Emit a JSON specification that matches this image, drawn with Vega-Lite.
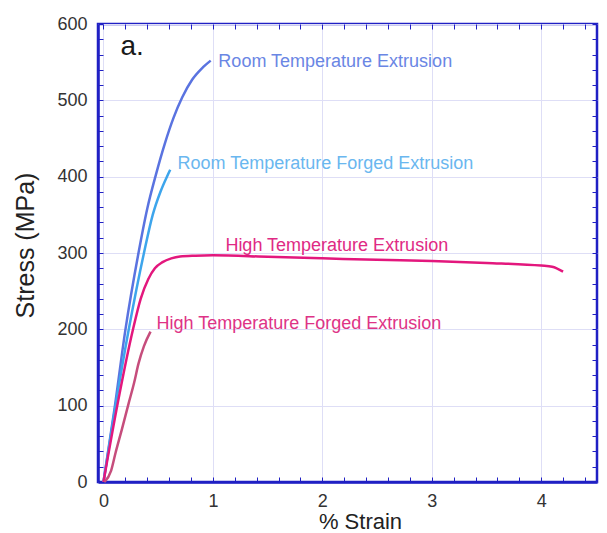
{
  "$schema": "https://vega.github.io/schema/vega-lite/v6.json",
  "width": 499,
  "height": 458,
  "autosize": {"type": "none"},
  "padding": {"left": 98, "top": 24, "right": 10, "bottom": 51},
  "background": "white",
  "config": {
    "view": {"stroke": "#2020c4", "strokeWidth": 2.5},
    "font": "Liberation Sans"
  },
  "datasets": {
    "curves": [
      {"series": "Room Temperature Extrusion", "strain": 0, "stress": 0},
      {"series": "Room Temperature Extrusion", "strain": 0.1, "stress": 95},
      {"series": "Room Temperature Extrusion", "strain": 0.2, "stress": 199},
      {"series": "Room Temperature Extrusion", "strain": 0.32, "stress": 300},
      {"series": "Room Temperature Extrusion", "strain": 0.4, "stress": 358},
      {"series": "Room Temperature Extrusion", "strain": 0.48, "stress": 403},
      {"series": "Room Temperature Extrusion", "strain": 0.56, "stress": 443},
      {"series": "Room Temperature Extrusion", "strain": 0.64, "stress": 477},
      {"series": "Room Temperature Extrusion", "strain": 0.72, "stress": 504},
      {"series": "Room Temperature Extrusion", "strain": 0.81, "stress": 527},
      {"series": "Room Temperature Extrusion", "strain": 0.9, "stress": 542},
      {"series": "Room Temperature Extrusion", "strain": 0.98, "stress": 552},
      {"series": "Room Temperature Forged Extrusion", "strain": 0, "stress": 0},
      {"series": "Room Temperature Forged Extrusion", "strain": 0.11, "stress": 100},
      {"series": "Room Temperature Forged Extrusion", "strain": 0.23, "stress": 199},
      {"series": "Room Temperature Forged Extrusion", "strain": 0.37, "stress": 300},
      {"series": "Room Temperature Forged Extrusion", "strain": 0.45, "stress": 350},
      {"series": "Room Temperature Forged Extrusion", "strain": 0.52, "stress": 380},
      {"series": "Room Temperature Forged Extrusion", "strain": 0.58, "stress": 400},
      {"series": "Room Temperature Forged Extrusion", "strain": 0.61, "stress": 409},
      {"series": "High Temperature Extrusion", "strain": 0, "stress": 0},
      {"series": "High Temperature Extrusion", "strain": 0.13, "stress": 103},
      {"series": "High Temperature Extrusion", "strain": 0.27, "stress": 200},
      {"series": "High Temperature Extrusion", "strain": 0.34, "stress": 240},
      {"series": "High Temperature Extrusion", "strain": 0.41, "stress": 266},
      {"series": "High Temperature Extrusion", "strain": 0.47, "stress": 280},
      {"series": "High Temperature Extrusion", "strain": 0.54, "stress": 288},
      {"series": "High Temperature Extrusion", "strain": 0.62, "stress": 293},
      {"series": "High Temperature Extrusion", "strain": 0.7, "stress": 295.5},
      {"series": "High Temperature Extrusion", "strain": 0.84, "stress": 296.5},
      {"series": "High Temperature Extrusion", "strain": 1.0, "stress": 297},
      {"series": "High Temperature Extrusion", "strain": 1.5, "stress": 295},
      {"series": "High Temperature Extrusion", "strain": 2.0, "stress": 293},
      {"series": "High Temperature Extrusion", "strain": 2.5, "stress": 291},
      {"series": "High Temperature Extrusion", "strain": 3.0, "stress": 289.5},
      {"series": "High Temperature Extrusion", "strain": 3.5, "stress": 287},
      {"series": "High Temperature Extrusion", "strain": 4.0, "stress": 283.5},
      {"series": "High Temperature Extrusion", "strain": 4.1, "stress": 282},
      {"series": "High Temperature Extrusion", "strain": 4.2, "stress": 275.5},
      {"series": "High Temperature Forged Extrusion", "strain": 0.01, "stress": 0},
      {"series": "High Temperature Forged Extrusion", "strain": 0.07, "stress": 15},
      {"series": "High Temperature Forged Extrusion", "strain": 0.11, "stress": 38},
      {"series": "High Temperature Forged Extrusion", "strain": 0.17, "stress": 70},
      {"series": "High Temperature Forged Extrusion", "strain": 0.23, "stress": 103},
      {"series": "High Temperature Forged Extrusion", "strain": 0.28, "stress": 130},
      {"series": "High Temperature Forged Extrusion", "strain": 0.32, "stress": 155},
      {"series": "High Temperature Forged Extrusion", "strain": 0.37, "stress": 178},
      {"series": "High Temperature Forged Extrusion", "strain": 0.43, "stress": 197}
    ],
    "labels": [
      {"label": "Room Temperature Extrusion", "strain": 1.05, "stress": 544},
      {"label": "Room Temperature Forged Extrusion", "strain": 0.676, "stress": 410},
      {"label": "High Temperature Extrusion", "strain": 1.114, "stress": 302},
      {"label": "High Temperature Forged Extrusion", "strain": 0.484, "stress": 200}
    ],
    "panel": [
      {"label": "a.", "strain": 0.155, "stress": 559}
    ]
  },
  "layer": [
    {
      "data": {"name": "curves"},
      "mark": {"type": "line", "strokeWidth": 2.5, "interpolate": "monotone"},
      "encoding": {
        "x": {
          "field": "strain", "type": "quantitative",
          "scale": {"domain": [-0.05, 4.51], "nice": false, "zero": false},
          "axis": {
            "title": "% Strain",
            "values": [0, 0.2, 0.4, 0.6, 0.8, 1, 1.2, 1.4, 1.6, 1.8, 2, 2.2, 2.4, 2.6, 2.8, 3, 3.2, 3.4, 3.6, 3.8, 4, 4.2, 4.4],
            "labelExpr": "datum.value % 1 === 0 ? format(datum.value, 'd') : ''",
            "labelFontSize": 18, "labelColor": "#333333", "labelPadding": 15,
            "labelFlush": false,
            "tickSize": -5, "tickColor": "#2020c4", "tickWidth": 1,
            "domainColor": "#2020c4", "domainWidth": 2.5,
            "grid": true, "gridColor": "#dedef6", "gridWidth": 1,
            "gridOpacity": {"condition": {"test": "datum.value % 1 === 0", "value": 1}, "value": 0},
            "titleFontSize": 22, "titleFontWeight": "normal", "titleColor": "#222222",
            "titleX": 262, "titleY": 46, "titleAlign": "center", "titleBaseline": "alphabetic"
          }
        },
        "y": {
          "field": "stress", "type": "quantitative",
          "scale": {"domain": [0, 600], "nice": false},
          "axis": {
            "title": "Stress (MPa)",
            "values": [0, 20, 40, 60, 80, 100, 120, 140, 160, 180, 200, 220, 240, 260, 280, 300, 320, 340, 360, 380, 400, 420, 440, 460, 480, 500, 520, 540, 560, 580, 600],
            "labelExpr": "datum.value % 100 === 0 ? format(datum.value, 'd') : ''",
            "labelFontSize": 18, "labelColor": "#333333", "labelPadding": 16,
            "labelFlush": false,
            "tickSize": -5, "tickColor": "#2020c4", "tickWidth": 1,
            "domainColor": "#2020c4", "domainWidth": 2.5,
            "grid": true, "gridColor": "#dedef6", "gridWidth": 1,
            "gridOpacity": {"condition": {"test": "datum.value % 100 === 0", "value": 1}, "value": 0},
            "titleFontSize": 25, "titleFontWeight": "normal", "titleColor": "#222222",
            "titleAngle": -90, "titleX": -73, "titleY": 221, "titleAlign": "center", "titleBaseline": "middle"
          }
        },
        "color": {
          "field": "series", "type": "nominal", "legend": null,
          "scale": {
            "domain": ["Room Temperature Extrusion", "Room Temperature Forged Extrusion", "High Temperature Extrusion", "High Temperature Forged Extrusion"],
            "range": ["#5a73e0", "#3da5ec", "#e3177d", "#c64d7c"]
          }
        },
        "detail": {"field": "series"}
      }
    },
    {
      "data": {"name": "curves"},
      "mark": {"type": "point", "opacity": 0},
      "encoding": {
        "x": {
          "field": "strain", "type": "quantitative",
          "axis": {
            "orient": "top", "title": null, "labels": false, "grid": false, "domain": false,
            "values": [0, 0.2, 0.4, 0.6, 0.8, 1, 1.2, 1.4, 1.6, 1.8, 2, 2.2, 2.4, 2.6, 2.8, 3, 3.2, 3.4, 3.6, 3.8, 4, 4.2, 4.4],
            "tickSize": -5, "tickColor": "#2020c4", "tickWidth": 1
          }
        },
        "y": {
          "field": "stress", "type": "quantitative",
          "axis": {
            "orient": "right", "title": null, "labels": false, "grid": false, "domain": false,
            "values": [0, 20, 40, 60, 80, 100, 120, 140, 160, 180, 200, 220, 240, 260, 280, 300, 320, 340, 360, 380, 400, 420, 440, 460, 480, 500, 520, 540, 560, 580, 600],
            "tickSize": -5, "tickColor": "#2020c4", "tickWidth": 1
          }
        }
      }
    },
    {
      "data": {"name": "labels"},
      "mark": {"type": "text", "align": "left", "baseline": "alphabetic", "fontSize": 18},
      "encoding": {
        "x": {"field": "strain", "type": "quantitative", "axis": null},
        "y": {"field": "stress", "type": "quantitative", "axis": null},
        "text": {"field": "label"},
        "color": {
          "field": "label", "type": "nominal", "legend": null,
          "scale": {
            "domain": ["Room Temperature Extrusion", "Room Temperature Forged Extrusion", "High Temperature Extrusion", "High Temperature Forged Extrusion"],
            "range": ["#6a86e4", "#6ab7ef", "#e02a84", "#de3386"]
          }
        }
      }
    },
    {
      "data": {"name": "panel"},
      "mark": {"type": "text", "align": "left", "baseline": "alphabetic", "fontSize": 28, "color": "#1a1a1a"},
      "encoding": {
        "x": {"field": "strain", "type": "quantitative", "axis": null},
        "y": {"field": "stress", "type": "quantitative", "axis": null},
        "text": {"field": "label"}
      }
    }
  ],
  "resolve": {
    "axis": {"x": "independent", "y": "independent"},
    "scale": {"color": "independent"}
  }
}
